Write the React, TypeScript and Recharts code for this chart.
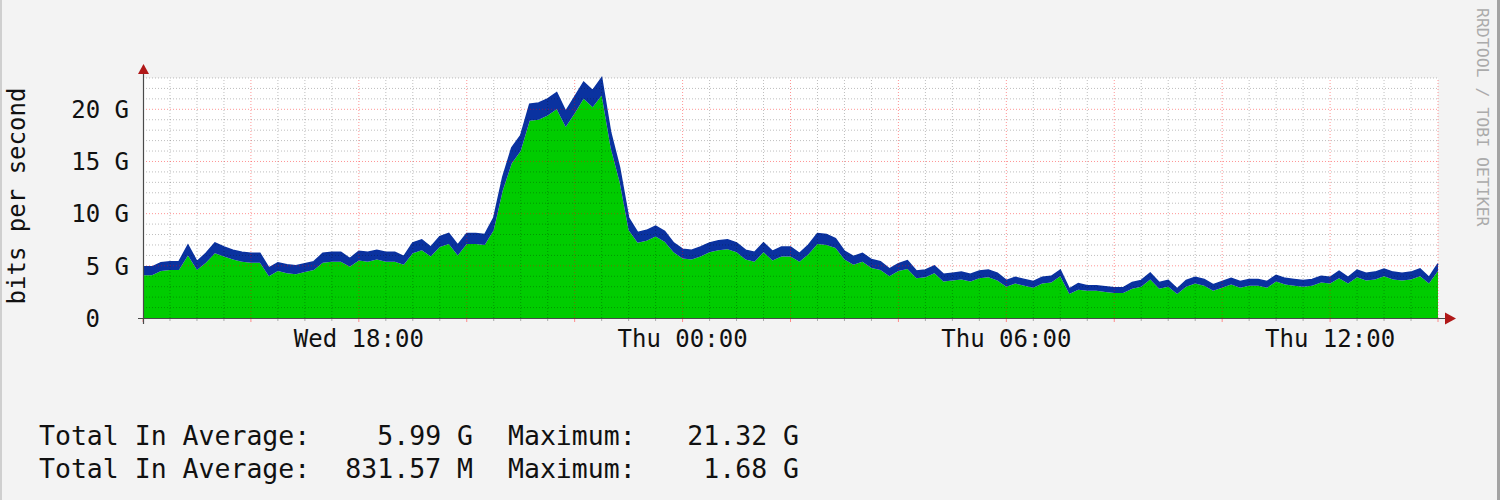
import { AreaChart, Area, XAxis, YAxis, ReferenceLine } from "recharts";

const STEP_MIN = 10; // one sample every 10 minutes, starting Wed 14:00

// lower (green) area, Gbit/s
const inGbps = [
  4.1, 4.1, 4.5, 4.6, 4.6, 6.0, 4.6, 5.3, 6.2, 5.9,
  5.6, 5.4, 5.3, 5.3, 4.0, 4.5, 4.3, 4.2, 4.4, 4.6,
  5.3, 5.4, 5.4, 4.9, 5.5, 5.4, 5.6, 5.4, 5.4, 5.1,
  6.2, 6.5, 5.9, 6.8, 7.1, 6.0, 7.1, 7.1, 7.0, 8.4,
  12.2, 14.8, 16.0, 18.9, 19.0, 19.4, 20.0, 18.3, 19.6, 21.0,
  20.2, 21.32, 16.3, 13.0, 8.4, 7.2, 7.4, 7.8, 7.3, 6.3,
  5.7, 5.6, 5.9, 6.3, 6.5, 6.6, 6.3, 5.6, 5.4, 6.3,
  5.5, 5.9, 5.9, 5.4, 6.1, 7.1, 7.0, 6.7, 5.6, 5.1,
  5.4, 4.8, 4.6, 4.0, 4.5, 4.7, 3.8, 3.9, 4.3, 3.5,
  3.6, 3.7, 3.5, 3.8, 3.9, 3.6, 3.0, 3.3, 3.1, 2.9,
  3.3, 3.4, 4.0, 2.3, 2.7, 2.6, 2.6, 2.5, 2.4, 2.4,
  2.8, 3.0, 3.7, 2.8, 3.0, 2.3, 3.0, 3.3, 3.1, 2.6,
  2.9, 3.2, 2.9, 3.1, 3.1, 2.9, 3.5, 3.2, 3.1, 3.0,
  3.1, 3.4, 3.3, 3.8, 3.3, 3.9, 3.6, 3.7, 4.0, 3.7,
  3.6, 3.7, 4.0, 3.3, 4.5,
];

// upper (blue) area, stacked on the green one
const stackGbps = [
  0.8, 0.8, 0.8, 0.8, 0.8, 1.0, 0.8, 0.9, 1.0, 0.9,
  0.9, 0.9, 0.9, 0.9, 0.8, 0.8, 0.8, 0.8, 0.8, 0.8,
  0.9, 0.9, 0.9, 0.8, 0.9, 0.9, 0.9, 0.9, 0.9, 0.8,
  1.0, 1.0, 0.9, 1.0, 1.0, 1.0, 1.0, 1.0, 1.0, 1.2,
  1.3, 1.5, 1.5, 1.6, 1.6, 1.6, 1.6, 1.5, 1.6, 1.6,
  1.6, 1.68, 1.5, 1.4, 1.2, 1.0, 1.0, 1.0, 1.0, 0.9,
  0.9, 0.9, 0.9, 0.9, 0.9, 0.9, 0.9, 0.9, 0.9, 0.9,
  0.9, 0.9, 0.9, 0.8, 0.9, 1.0, 1.0, 0.9, 0.8, 0.8,
  0.8, 0.8, 0.8, 0.7, 0.7, 0.8, 0.7, 0.7, 0.7, 0.7,
  0.7, 0.7, 0.7, 0.7, 0.7, 0.7, 0.6, 0.6, 0.6, 0.6,
  0.6, 0.6, 0.6, 0.5, 0.6, 0.5, 0.5, 0.5, 0.5, 0.5,
  0.6, 0.6, 0.6, 0.6, 0.6, 0.5, 0.6, 0.6, 0.6, 0.6,
  0.6, 0.6, 0.6, 0.6, 0.6, 0.6, 0.6, 0.6, 0.6, 0.6,
  0.6, 0.6, 0.6, 0.7, 0.6, 0.7, 0.7, 0.7, 0.7, 0.7,
  0.7, 0.7, 0.7, 0.6, 0.7,
];

const xLabels: Record<number, string> = {
  240: "Wed 18:00",
  600: "Thu 00:00",
  960: "Thu 06:00",
  1320: "Thu 12:00",
};
const yLabels: Record<number, string> = { 5: "5 G", 10: "10 G", 15: "15 G", 20: "20 G" };

// legend rows: label, value, label, value
const legendRows = [
  ["Total In Average:", "5.99 G", "Maximum:", "21.32 G"],
  ["Total In Average:", "831.57 M", "Maximum:", "1.68 G"],
];

const Y_MAX = 23;
const yMajor = [5, 10, 15, 20];
const yMinor = [1, 2, 3, 4, 6, 7, 8, 9, 11, 12, 13, 14, 16, 17, 18, 19, 21, 22, 23];
const xAll: number[] = [];
for (let t = 0; t <= 1440; t += 30) xAll.push(t);
const xMajor = xAll.filter((t) => t % 120 === 0 && t > 0);
const xMinor = xAll.filter((t) => t % 120 !== 0);

const data = inGbps.map((v, i) => ({ t: i * STEP_MIN, a: v, b: stackGbps[i] }));

const MONO = "'DejaVu Sans Mono', monospace";
const AXIS_COL = "#4a4a4a";
const ARROW_COL = "#b01818";
const MINOR_COL = "rgba(0,0,0,0.26)";
const MAJOR_COL = "rgba(255,0,0,0.42)";

const XTick = ({ x, y, payload }: any) => {
  const t = payload.value;
  const major = t % 120 === 0;
  return (
    <g>
      <line x1={x} x2={x} y1={y} y2={y + (major ? 4 : 3)} stroke={major ? "#ff8a8a" : "#aaa"} />
      {xLabels[t] && (
        <text x={x} y={y + 29} textAnchor="middle" fontFamily={MONO} fontSize={24} fill="#111">
          {xLabels[t]}
        </text>
      )}
    </g>
  );
};

const YTick = ({ x, y, payload }: any) => {
  const v = payload.value;
  if (v === 0) {
    return (
      <text x={x - 43} y={y + 8.8} textAnchor="end" fontFamily={MONO} fontSize={24} fill="#111">
        0
      </text>
    );
  }
  if (!yLabels[v]) return <g />;
  return (
    <text x={x - 14} y={y + 8.8} textAnchor="end" fontFamily={MONO} fontSize={24} fill="#111">
      {yLabels[v]}
    </text>
  );
};

export default function App() {
  return (
    <div style={{ position: "absolute", left: 0, top: 0, width: 1500, height: 500, background: "#f3f3f3" }}>
      <svg width={1500} height={500} style={{ position: "absolute", left: 0, top: 0 }}>
        <rect x={143} y={78} width={1295} height={240} fill="#ffffff" />
      </svg>
      <div style={{ position: "absolute", left: 0, top: 0 }}>
        <AreaChart width={1500} height={500} data={data} margin={{ top: 78, right: 62, bottom: 142, left: 73 }}>
          <XAxis
            dataKey="t"
            type="number"
            domain={[0, 1440]}
            ticks={xAll}
            interval={0}
            height={40}
            tickSize={0}
            tickMargin={0}
            axisLine={false}
            tickLine={false}
            tick={(p: any) => <XTick {...p} />}
          />
          <YAxis
            type="number"
            domain={[0, Y_MAX]}
            ticks={[0, ...yMajor]}
            interval={0}
            width={70}
            tickSize={0}
            tickMargin={0}
            axisLine={false}
            tickLine={false}
            tick={(p: any) => <YTick {...p} />}
          />
          <Area
            dataKey="a"
            stackId="s"
            type="linear"
            fill="#00cc00"
            fillOpacity={1}
            stroke="none"
            isAnimationActive={false}
          />
          <Area
            dataKey="b"
            stackId="s"
            type="linear"
            fill="#0a32a0"
            fillOpacity={1}
            stroke="#0a32a0"
            strokeWidth={1.5}
            isAnimationActive={false}
          />
          {yMinor.map((v) => (
            <ReferenceLine key={"hy" + v} y={v} stroke={MINOR_COL} strokeDasharray="1 2" />
          ))}
          {xMinor.map((t) => (
            <ReferenceLine key={"vx" + t} x={t} stroke={MINOR_COL} strokeDasharray="1 2" />
          ))}
          {yMajor.map((v) => (
            <ReferenceLine key={"Hy" + v} y={v} stroke={MAJOR_COL} strokeDasharray="1 2" />
          ))}
          {xMajor.map((t) => (
            <ReferenceLine key={"Vx" + t} x={t} stroke={MAJOR_COL} strokeDasharray="1 2" />
          ))}
        </AreaChart>
      </div>
      <svg width={1500} height={500} style={{ position: "absolute", left: 0, top: 0, pointerEvents: "none" }}>
        <rect x={0} y={0} width={2} height={500} fill="#cfcfcf" />
        <rect x={1497} y={0} width={3} height={500} fill="#a3a3a3" />
        <line x1={143.5} x2={143.5} y1={324} y2={70} stroke={AXIS_COL} strokeWidth={1.2} />
        <polygon points="138,74 149,74 143.5,64" fill={ARROW_COL} />
        <line x1={138} x2={1447} y1={318.5} y2={318.5} stroke={AXIS_COL} strokeWidth={1.2} />
        <polygon points="1445,312.5 1445,324.5 1456,318.5" fill={ARROW_COL} />
        <text
          transform="translate(25,196) rotate(-90)"
          textAnchor="middle"
          fontFamily={MONO}
          fontSize={24}
          fill="#111"
        >
          bits per second
        </text>
        <text transform="translate(1477,8) rotate(90)" fontFamily={MONO} fontSize={16.5} fill="#ababab">
          RRDTOOL / TOBI OETIKER
        </text>
        {legendRows.map((row, i) => {
          const y = 445 + i * 33;
          const common = { fontFamily: MONO, fontSize: 26.5, fill: "#111", y };
          return (
            <g key={i}>
              <text {...common} x={39}>{row[0]}</text>
              <text {...common} x={473} textAnchor="end">{row[1]}</text>
              <text {...common} x={508}>{row[2]}</text>
              <text {...common} x={799} textAnchor="end">{row[3]}</text>
            </g>
          );
        })}
      </svg>
    </div>
  );
}
